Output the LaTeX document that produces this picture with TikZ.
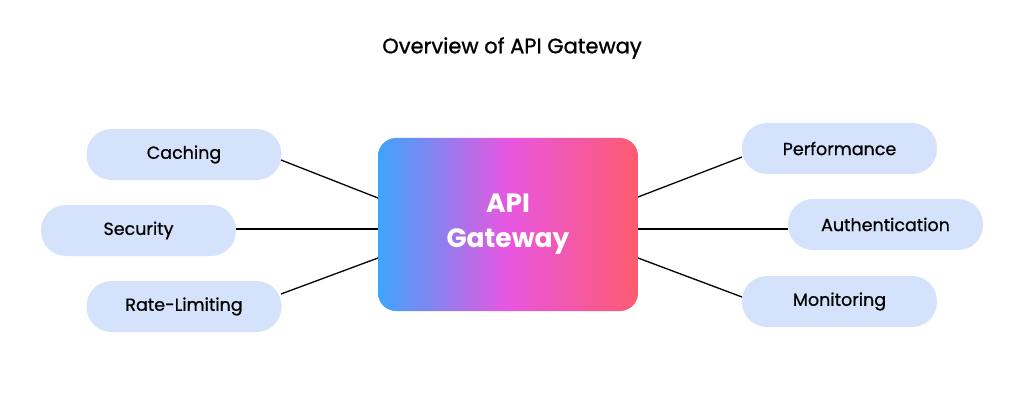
\documentclass[tikz,border=0pt]{standalone}
\usepackage{fontspec}
\setmainfont{Poppins}
\definecolor{pill}{HTML}{D5E2FC}
\definecolor{ca}{HTML}{3DA5FB}
\definecolor{cb}{HTML}{E856E0}
\definecolor{cc}{HTML}{FE5B70}
\pgfdeclarehorizontalshading{api}{100bp}{color(0bp)=(ca); color(25bp)=(ca); color(50bp)=(cb); color(75bp)=(cc); color(100bp)=(cc)}
\begin{document}
\begin{tikzpicture}[x=1pt,y=-1pt,
  pill/.style={fill=pill, rounded corners=25pt, minimum width=195pt, minimum height=51pt, font=\fontsize{17.5}{20}\selectfont\addfontfeatures{FakeBold=0.8}, text=black, inner sep=0pt},
  link/.style={line width=1.3pt, black}]
\useasboundingbox (0,0) rectangle (1024,414);
\fill[white] (0,0) rectangle (1024,414);
\node (title) at (512,48) {\fontsize{21}{24}\selectfont\addfontfeatures{FakeBold=1.0} Overview of API Gateway};
\node[shading=api, rounded corners=18pt, minimum width=260pt, minimum height=173pt, align=center, text=white,
  font=\fontsize{26.5}{35}\selectfont\bfseries] (gw) at (508,224.5) {API\\Gateway};
\node[pill] (cach) at (184,154.5) {Caching};
\node[pill] (sec) at (138.5,230.5) {Security};
\node[pill] (rate) at (184,306.5) {Rate-Limiting};
\node[pill] (perf) at (839.5,148.5) {Performance};
\node[pill] (auth) at (885.5,224.5) {Authentication};
\node[pill] (mon) at (839.5,301.5) {Monitoring};
\coordinate (gl1) at (378,198); \coordinate (gl2) at (378,229); \coordinate (gl3) at (378,258);
\coordinate (gr1) at (638,197); \coordinate (gr2) at (638,229); \coordinate (gr3) at (638,258);
\coordinate (pc) at (281,160); \coordinate (ps) at (236,229); \coordinate (pr) at (281,294);
\coordinate (pp) at (742,157); \coordinate (pa) at (788,229); \coordinate (pm) at (742,297);
\draw[link] (pc) -- (gl1);
\draw[link] (ps) -- (gl2);
\draw[link] (pr) -- (gl3);
\draw[link] (gr1) -- (pp);
\draw[link] (gr2) -- (pa);
\draw[link] (gr3) -- (pm);
\end{tikzpicture}
\end{document}
